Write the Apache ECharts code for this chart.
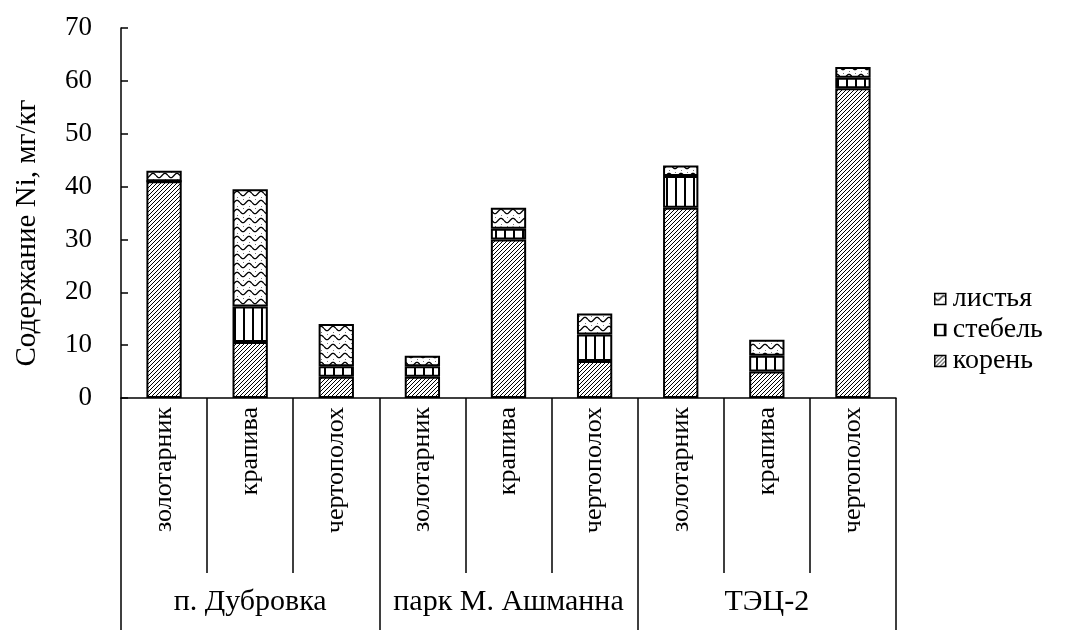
<!DOCTYPE html>
<html>
<head>
<meta charset="utf-8">
<script src="https://cdn.jsdelivr.net/npm/echarts@6/dist/echarts.min.js"></script>
<style>
  html, body { margin: 0; padding: 0; background: #fff; }
  #chart { width: 1067px; height: 630px; }
</style>
</head>
<body>
<div id="chart"></div>
<script>
// Ni content by plant part, three sites x three plant species
const categories = ['золотарник', 'крапива', 'чертополох',
                    'золотарник', 'крапива', 'чертополох',
                    'золотарник', 'крапива', 'чертополох'];
const sites = ['п. Дубровка', 'парк М. Ашманна', 'ТЭЦ-2'];
const root   = [41, 10.6, 4, 4, 30, 7, 36, 5, 58.6];
const stem   = [0, 6.7, 2, 2, 2, 5, 6, 3, 2];
const leaves = [2, 22.2, 8, 2, 4, 4, 2, 3, 2];
const yTicks = { min: 0, max: 70, interval: 10 };

const FONT = 'Liberation Serif';

function pattern(w, h, draw) {
  const c = document.createElement('canvas');
  c.width = w; c.height = h;
  const ctx = c.getContext('2d');
  ctx.fillStyle = '#fff';
  ctx.fillRect(0, 0, w, h);
  ctx.strokeStyle = '#000';
  ctx.fillStyle = '#000';
  draw(ctx, w, h);
  return { image: c, repeat: 'repeat' };
}

// fine diagonal hatching for roots
const rootFill = pattern(4, 4, (ctx, w, h) => {
  ctx.lineWidth = 1;
  ctx.beginPath();
  ctx.moveTo(-1, h + 1); ctx.lineTo(w + 1, -1);
  ctx.moveTo(-1, 1); ctx.lineTo(1, -1);
  ctx.moveTo(w - 1, h + 1); ctx.lineTo(w + 1, h - 1);
  ctx.stroke();
});

// vertical stripes for stems
const stemFill = pattern(9, 4, (ctx, w, h) => {
  ctx.fillRect(0, 0, 2, h);
});

// wavy lines for leaves
const leafFill = pattern(12, 9, (ctx, w, h) => {
  ctx.lineWidth = 1.3;
  ctx.beginPath();
  for (let x = 0; x <= w; x += 0.5) {
    const y = 4.5 + 2.2 * Math.sin((x / w) * Math.PI * 2);
    if (x === 0) ctx.moveTo(x, y); else ctx.lineTo(x, y);
  }
  ctx.stroke();
  ctx.fillStyle = '#777';
  ctx.fillRect(3, 1, 1, 1);
  ctx.fillRect(9, 8, 1, 1);
});

const barStyle = (fill) => ({ color: fill, borderColor: '#000', borderWidth: 2 });

const chart = echarts.init(document.getElementById('chart'), null, { renderer: 'canvas' });

chart.setOption({
  animation: false,
  backgroundColor: '#fff',
  textStyle: { fontFamily: FONT, color: '#000' },
  grid: { left: 121, right: 171, top: 28, bottom: 232, containLabel: false },
  legend: {
    orient: 'vertical',
    left: 929,
    top: 280,
    itemWidth: 11,
    itemHeight: 11,
    itemGap: 3,
    icon: 'rect',
    data: ['листья', 'стебель', 'корень'],
    textStyle: { fontFamily: FONT, fontSize: 28, color: '#000', padding: [0, 0, 0, 2] },
    itemStyle: { borderColor: '#000', borderWidth: 1.5 }
  },
  xAxis: [
    {
      type: 'category',
      data: categories,
      position: 'bottom',
      axisLine: { show: true, lineStyle: { color: '#000', width: 1.5 } },
      axisTick: { show: true, interval: 0, length: 175, lineStyle: { color: '#000', width: 1.5 } },
      axisLabel: {
        interval: 0, rotate: 90, margin: 9,
        fontFamily: FONT, fontSize: 26, color: '#000'
      }
    },
    {
      type: 'category',
      data: sites,
      position: 'bottom',
      axisLine: { show: false },
      axisTick: { show: true, interval: 0, length: 232, lineStyle: { color: '#000', width: 1.5 } },
      axisLabel: { interval: 0, margin: 189, fontFamily: FONT, fontSize: 30, color: '#000' }
    }
  ],
  yAxis: {
    type: 'value',
    min: yTicks.min, max: yTicks.max, interval: yTicks.interval,
    name: 'Содержание Ni, мг/кг',
    nameLocation: 'middle',
    nameGap: 79,
    nameTextStyle: { fontFamily: FONT, fontSize: 29, color: '#000', padding: [0, 40, 0, 0] },
    axisLine: { show: true, lineStyle: { color: '#000', width: 1.5 } },
    axisTick: { show: true, inside: true, length: 7, lineStyle: { color: '#000', width: 1.5 } },
    axisLabel: { margin: 29, fontFamily: FONT, fontSize: 27, color: '#000' },
    splitLine: { show: false }
  },
  series: [
    { name: 'корень', type: 'bar', stack: 'ni', barWidth: '41%', data: root, itemStyle: barStyle(rootFill) },
    { name: 'стебель', type: 'bar', stack: 'ni', barWidth: '41%', data: stem, itemStyle: barStyle(stemFill) },
    { name: 'листья', type: 'bar', stack: 'ni', barWidth: '41%', data: leaves, itemStyle: barStyle(leafFill) }
  ]
});
</script>
</body>
</html>
